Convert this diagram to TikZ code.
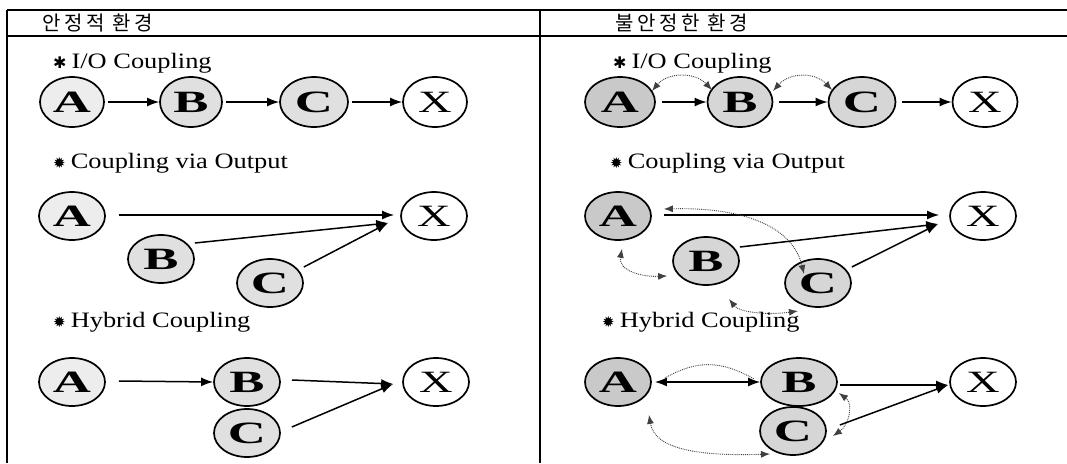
\documentclass[tikz,border=0pt]{standalone}
\usepackage{fontspec}
\setmainfont{Liberation Serif}
\newfontfamily\kor[LetterSpace=18]{Noto Sans CJK KR}
\newfontfamily\sym{DejaVu Sans}
\newfontfamily\ttl[FakeStretch=1.2]{Liberation Serif}
\newfontfamily\ndfont[FakeStretch=1.7]{Liberation Serif}
\newfontfamily\xfont[FakeStretch=1.5]{Liberation Serif}
\usetikzlibrary{arrows.meta,calc,shapes.geometric}
\newcommand{\starOne}{{\sym\fontsize{16}{16}\selectfont ✱}\hspace{5pt}}
\newcommand{\starTwo}{{\sym\fontsize{15}{15}\selectfont ✹}\hspace{5pt}}
\begin{document}
\begin{tikzpicture}[x=1pt,y=-1pt,
  frame/.style={line width=1.8pt},
  nd/.style={ellipse, draw, line width=1.7pt, minimum width=66pt, minimum height=48pt, inner sep=0pt,
     font=\fontsize{31}{31}\ndfont\bfseries},
  xnd/.style={nd, fill=white, font=\fontsize{31}{31}\xfont},
  lA/.style={nd, fill=gray!14},
  lB/.style={nd, fill=gray!24},
  rA/.style={nd, fill=gray!42},
  rB/.style={nd, fill=gray!32},
  arr/.style={line width=1.5pt, -{Latex[length=12pt,width=9pt]}},
  arrb/.style={line width=1.5pt, {Latex[length=12pt,width=9pt]}-{Latex[length=12pt,width=9pt]}},
  dot/.style={densely dotted, line width=0.9pt, draw=gray!50!black},
  dotarr/.style={dot, {Latex[length=9pt,width=7pt]}-{Latex[length=9pt,width=7pt]}},
  hdr/.style={anchor=base west, font=\fontsize{20}{20}\kor, inner sep=0pt},
  ttlnode/.style={anchor=base west, font=\fontsize{22}{22}\ttl, inner sep=0pt},
]
\useasboundingbox (0,0) rectangle (1067,463);
\fill[white] (0,0) rectangle (1067,463);
% frame
\draw[frame] (7,10) -- (1067,10);
\draw[frame] (7,36) -- (1067,36);
\draw[frame] (7,10) -- (7,463);
\draw[frame] (540,10) -- (540,463);
% headers
\node[hdr] (h1) at (42,30) {안정적 환경};
\node[hdr] (h2) at (615,30) {불안정한 환경};
% titles
\node[ttlnode] (t1) at (53,68) {\starOne I/O Coupling};
\node[ttlnode] (t2) at (53,168) {\starTwo Coupling via Output};
\node[ttlnode] (t3) at (53,327) {\starTwo Hybrid Coupling};
\node[ttlnode] (t4) at (613,68) {\starOne I/O Coupling};
\node[ttlnode] (t5) at (610,168) {\starTwo Coupling via Output};
\node[ttlnode] (t6) at (602,327) {\starTwo Hybrid Coupling};

% ---------- left row 1
\node[lA, minimum width=64pt, minimum height=50pt] (a1) at (72,102) {A};
\node[lB, minimum width=62pt, minimum height=50pt] (b1) at (191,102) {B};
\node[lB, minimum width=68pt, minimum height=50pt] (c1) at (314,102) {C};
\node[xnd, minimum width=64pt, minimum height=50pt] (x1) at (435,102) {X};
\draw[arr, shorten <=3pt] (a1) -- (b1);
\draw[arr, shorten <=3pt] (b1) -- (c1);
\draw[arr, shorten <=3pt] (c1) -- (x1);

% ---------- right row 1
\node[rA, minimum width=70pt, minimum height=50pt] (ra1) at (620,102) {A};
\node[rB, minimum width=65pt, minimum height=50pt] (rb1) at (740,102) {B};
\node[rB, minimum width=67pt, minimum height=50pt] (rc1) at (862,102) {C};
\node[xnd, minimum width=65pt, minimum height=50pt] (rx1) at (985,102) {X};
\draw[arr, shorten <=6pt] (ra1) -- (rb1);
\draw[arr, shorten <=6pt] (rb1) -- (rc1);
\draw[arr, shorten <=6pt] (rc1) -- (rx1);
\draw[dotarr] ($(ra1)+(32,-11)$) .. controls ($(ra1)+(48,-30)$) and ($(rb1)+(-45,-30)$) .. ($(rb1)+(-28,-12)$);
\draw[dotarr] ($(rb1)+(33,-11)$) .. controls ($(rb1)+(50,-30)$) and ($(rc1)+(-47,-30)$) .. ($(rc1)+(-30,-12)$);

% ---------- left row 2
\node[lA] (a2) at (72,216) {A};
\node[lB] (b2) at (161,259) {B};
\node[lB] (c2) at (270,283) {C};
\node[xnd] (x2) at (434,216) {X};
\coordinate (x2in) at ($(x2.west)+(-12,7)$);
\draw[arr] ($(a2.east)+(13,-1)$) -- ($(x2.west)+(-6,-1)$);
\draw[arr] ($(b2.east)+(0,-16)$) -- (x2in);
\draw[arr] ($(c2.east)+(0,-16)$) -- (x2in);

% ---------- right row 2
\node[rA] (ra2) at (618,216) {A};
\node[rB] (rb2) at (706,261) {B};
\node[rB] (rc2) at (818,283) {C};
\node[xnd] (rx2) at (983,216) {X};
\coordinate (rx2in) at ($(rx2.west)+(-11,8)$);
\draw[arr] ($(ra2.east)+(12,-1)$) -- ($(rx2.west)+(-10,-1)$);
\draw[arr] ($(rb2.east)+(0,-14)$) -- (rx2in);
\draw[arr] ($(rc2.east)+(0,-16)$) -- (rx2in);
\draw[dotarr] ($(ra2.east)+(12,-7)$) .. controls ($(ra2.east)+(95,-9)$) and ($(rc2)+(-25,-55)$) .. ($(rc2)+(-14,-9)$);
\draw[dotarr] ($(ra2.south)+(4,8)$) .. controls ($(ra2.south)+(0,30)$) and ($(rb2.west)+(-30,16)$) .. ($(rb2.west)+(-5,15)$);
\draw[dotarr] ($(rb2)+(23,38)$) .. controls ($(rb2)+(34,52)$) and ($(rc2)+(-48,32)$) .. ($(rc2)+(-20,28)$);

% ---------- left row 3
\node[lA] (a3) at (72,382) {A};
\node[lB] (b3) at (247,382) {B};
\node[lB] (c3) at (247,433) {C};
\node[xnd] (x3) at (436,382) {X};
\coordinate (x3in) at ($(x3.west)+(-9,2)$);
\draw[arr] ($(a3.east)+(13,-1)$) -- (b3.west);
\draw[arr] ($(b3.east)+(11,-2)$) -- (x3in);
\draw[arr] ($(c3.east)+(11,-6)$) -- (x3in);

% ---------- right row 3
\node[rA] (ra3) at (618,382) {A};
\node[rB, minimum width=76pt] (rb3) at (799,382) {B};
\node[rB] (rc3) at (793,431) {C};
\node[xnd] (rx3) at (983,382) {X};
\coordinate (rx3in) at ($(rx3.west)+(-1,3)$);
\draw[arrb, shorten <=3pt] (ra3) -- (rb3);
\draw[dot] ($(ra3.east)+(13,-4)$) .. controls ($(ra3.east)+(45,-22)$) and ($(rb3.west)+(-40,-22)$) .. ($(rb3.west)+(-6,-3)$);
\draw[arr] ($(rb3.east)+(2,3)$) -- (rx3in);
\draw[arr] ($(rc3.east)+(13,-6)$) -- (rx3in);
\draw[dotarr] ($(rb3.east)+(1,11)$) .. controls ($(rb3.east)+(16,22)$) and ($(rc3.east)+(22,-6)$) .. ($(rc3.east)+(6,5)$);
\draw[dotarr] ($(ra3.south)+(31,8)$) .. controls ($(ra3.south)+(37,45)$) and ($(rc3)+(-85,25)$) .. ($(rc3)+(-23,23)$);
\end{tikzpicture}
\end{document}
